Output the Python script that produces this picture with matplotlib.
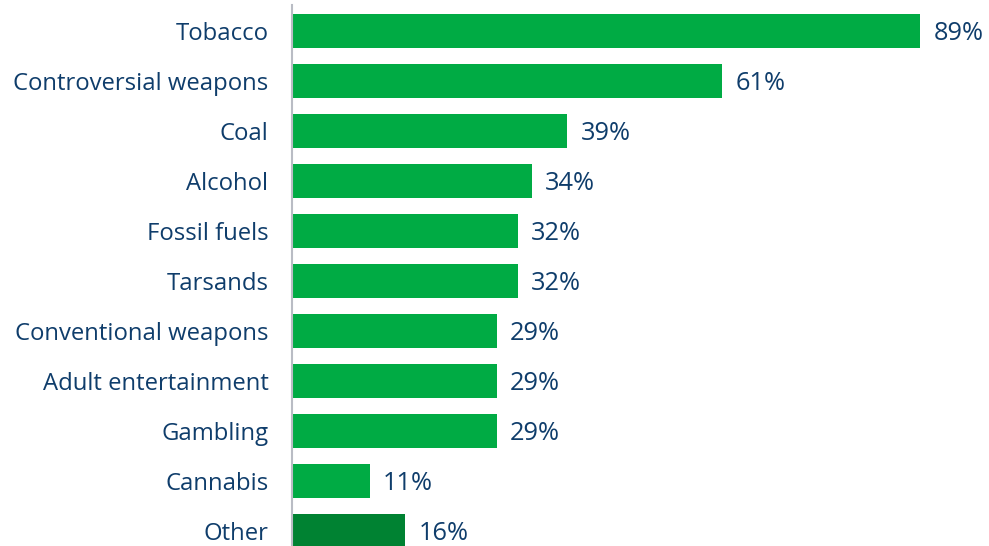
import matplotlib
matplotlib.use("Agg")
import matplotlib.pyplot as plt

categories = ["Tobacco", "Controversial weapons", "Coal", "Alcohol", "Fossil fuels",
              "Tarsands", "Conventional weapons", "Adult entertainment", "Gambling",
              "Cannabis", "Other"]
values = [89, 61, 39, 34, 32, 32, 29, 29, 29, 11, 16]

bar_green = "#00AB44"
other_green = "#008232"
text_navy = "#0F3D6B"
axis_grey = "#B9BCC4"

plt.rcParams["font.family"] = ["Open Sans", "DejaVu Sans"]

W, H = 989, 546
fig = plt.figure(figsize=(W / 100, H / 100), dpi=100)
ax = fig.add_axes([292 / W, 0, (W - 292) / W, (H - 5) / H])

colors = [other_green if c == "Other" else bar_green for c in categories]
ypos = list(range(len(categories)))
ax.barh(ypos, values, height=0.68, color=colors, left=0)

px_per_unit = 7.056
ax.set_xlim(0, (W - 292) / px_per_unit)
ax.set_ylim(len(categories) - 1 + 0.30, -0.52)

for y, v in zip(ypos, values):
    ax.text(v + 1.9, y + 0.06, f"{v}%", va="center", ha="left",
            fontsize=18.3, color=text_navy)

ax.set_yticks(ypos)
ax.set_yticklabels(categories, fontsize=17.2, color=text_navy)
ax.tick_params(axis="y", length=0, pad=17)
ax.set_xticks([])

for s in ["top", "right", "bottom"]:
    ax.spines[s].set_visible(False)
ax.spines["left"].set_color(axis_grey)
ax.spines["left"].set_linewidth(1.5)

fig.savefig("out.png", dpi=100)
